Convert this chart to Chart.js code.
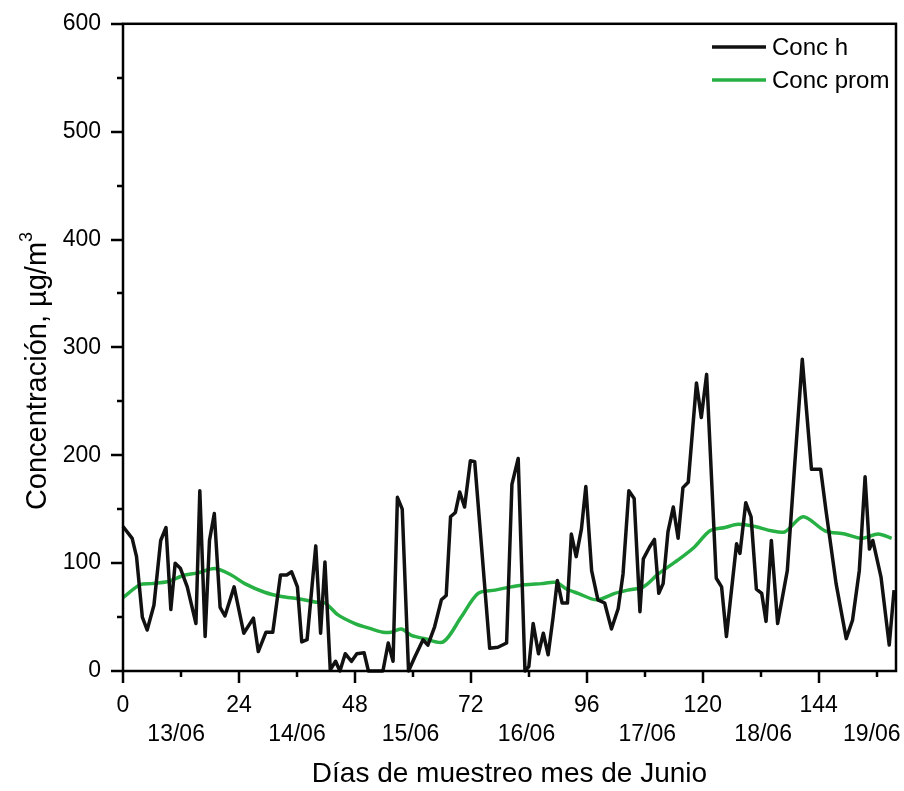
<!DOCTYPE html>
<html lang="es">
<head>
<meta charset="utf-8">
<title>Concentración horaria - Junio</title>
<script src="https://cdn.jsdelivr.net/npm/chart.js@4.4.1/dist/chart.umd.min.js"></script>
<style>
    html, body { margin: 0; padding: 0; background: #ffffff; }
    #grafico { display: block; }
</style>
</head>
<body>
<canvas id="grafico" width="904" height="791"></canvas>
<script>
"use strict";

/********************************************************************
 * Datos (horas desde el inicio del muestreo)
 ********************************************************************/
const horasH = [
    0, 1.9, 2.8, 4, 5, 6.4, 7.8, 8.9, 9.9, 10.8,
    11.9, 13.3, 15.1, 15.9, 17, 17.9, 18.9, 20.1, 21.1, 23,
    25, 27, 28, 29.6, 31, 32.6, 33.9, 34.9, 36.1, 37,
    38.1, 39.9, 40.9, 41.8, 42.9, 44, 44.9, 46, 47.3, 48.4,
    49.9, 50.8, 53.8, 54.9, 55.9, 56.8, 57.8, 59.1, 60.4, 62.1,
    63.1, 64.5, 65.9, 66.9, 67.8, 68.8, 69.7, 70.7, 71.9, 72.8,
    75.9, 77.6, 79.4, 80.5, 81.8, 83.2, 84, 84.9, 86, 87,
    88, 89, 89.9, 90.9, 92, 92.8, 93.8, 94.9, 95.8, 97,
    98.3, 99.7, 101.1, 102.5, 103.5, 104.7, 105.8, 107, 107.7, 109,
    110, 110.9, 111.8, 112.8, 113.9, 114.9, 115.9, 117, 118.7, 119.7,
    120.8, 122.8, 123.9, 124.9, 127, 127.7, 128.9, 130, 131.1, 132.2,
    133.1, 134.2, 135.5, 137.5, 139, 140.6, 142.5, 144.4, 145.5, 147.6,
    149.7, 151, 152.4, 153.6, 154.5, 155.2, 156.9, 158.6, 159.6
];

const concH = [
    134, 123, 106, 50, 38, 61, 121, 133, 57, 100,
    95, 78, 44, 167, 32, 121, 146, 59, 51, 78,
    35, 49, 18, 36, 36, 89, 89, 92, 78, 27,
    29, 116, 35, 101, 1, 9, 0, 16, 9, 16,
    17, 0, 0, 26, 9, 161, 150, 0, 13, 29,
    24, 41, 66, 70, 143, 147, 166, 152, 195, 194,
    21, 22, 26, 173, 197, 0, 4, 44, 16, 35,
    15, 49, 84, 63, 63, 127, 106, 132, 171, 93,
    66, 63, 39, 58, 90, 167, 160, 55, 104, 115,
    122, 72, 81, 129, 152, 123, 170, 175, 267, 235,
    275, 86, 78, 32, 118, 109, 156, 143, 76, 72,
    46, 121, 44, 93, 189, 289, 187, 187, 149, 81,
    30, 47, 93, 180, 113, 121, 87, 24, 75
];

const horasProm = [
    0, 3.5, 5.9, 9.3, 12.8, 15.5, 19, 22.4, 25.2, 29.3,
    32.8, 36.2, 39.7, 41.8, 44.5, 48, 51.4, 53.8, 55.5, 57.6,
    59.7, 62.5, 66.3, 70, 73.5, 77, 80.4, 83.2, 86.6, 89.7,
    91.8, 94.2, 98, 101.8, 104.5, 107.7, 110.8, 114.9, 118.3, 121.5,
    124.6, 127.3, 130.8, 134.2, 137, 140.8, 145.3, 149.4, 152.9, 156.3,
    159.1
];

const concProm = [
    68, 80, 81, 83, 89, 91, 95, 89, 81, 73,
    69, 67, 64, 63, 52, 44, 39, 36, 36, 39,
    33, 30, 27, 50, 72, 75, 78, 80, 81, 82,
    76, 72, 66, 72, 75, 78, 90, 103, 115, 130,
    133, 136, 134, 130, 129, 143, 130, 127, 123, 127,
    123
];

const ticksX = [0, 24, 48, 72, 96, 120, 144];
const etiquetasDias = ["13/06", "14/06", "15/06", "16/06", "17/06", "18/06", "19/06"];
const horasDias = [11, 36, 59.5, 83.5, 108.5, 132.5, 155];

const FUENTE = "'Liberation Sans', Arial, Helvetica, sans-serif";
const VERDE = "#27b043";

/********************************************************************
 * Marco, marcas de ejes, fechas, título Y y leyenda
 ********************************************************************/
const extrasPlugin = {

    id: "extras",

    afterDraw(chart) {

        const ctx = chart.ctx;
        const area = chart.chartArea;
        const sx = chart.scales.x;
        const sy = chart.scales.y;

        ctx.save();

        // marco
        ctx.strokeStyle = "#000";
        ctx.lineWidth = 2.5;
        ctx.strokeRect(area.left, area.top, area.right - area.left, area.bottom - area.top);

        // marcas eje Y (mayores cada 100, menores cada 50)
        ctx.beginPath();
        for (let v = 0; v <= 600; v += 50) {
            const y = Math.round(sy.getPixelForValue(v));
            const largo = v % 100 === 0 ? 12 : 6;
            ctx.moveTo(area.left, y);
            ctx.lineTo(area.left - largo, y);
        }

        // marcas eje X (mayores cada 24 h, menores cada 12 h)
        for (let h = 0; h <= 156; h += 12) {
            const x = Math.round(sx.getPixelForValue(h));
            const largo = h % 24 === 0 ? 12 : 6;
            ctx.moveTo(x, area.bottom);
            ctx.lineTo(x, area.bottom + largo);
        }
        ctx.stroke();

        // fechas bajo el eje X
        ctx.fillStyle = "#000";
        ctx.font = "23px " + FUENTE;
        ctx.textAlign = "center";
        ctx.textBaseline = "middle";
        etiquetasDias.forEach((d, i) => {
            ctx.fillText(d, sx.getPixelForValue(horasDias[i]), 735);
        });

        // título eje Y con superíndice
        ctx.translate(38, 371);
        ctx.rotate(-Math.PI / 2);
        const base = "Concentración, µg/m";
        ctx.font = "29px " + FUENTE;
        const anchoBase = ctx.measureText(base).width;
        ctx.font = "18px " + FUENTE;
        const anchoSup = ctx.measureText("3").width;
        const inicio = -(anchoBase + anchoSup) / 2;
        ctx.textAlign = "left";
        ctx.textBaseline = "middle";
        ctx.font = "29px " + FUENTE;
        ctx.fillText(base, inicio, 0);
        ctx.font = "18px " + FUENTE;
        ctx.fillText("3", inicio + anchoBase, -11);
        ctx.setTransform(1, 0, 0, 1, 0, 0);

        // leyenda
        ctx.font = "24px " + FUENTE;
        ctx.textAlign = "left";
        ctx.textBaseline = "middle";
        chart.data.datasets.forEach((ds, i) => {
            const y = 47 + i * 33;
            ctx.strokeStyle = ds.borderColor;
            ctx.lineWidth = 3.5;
            ctx.beginPath();
            ctx.moveTo(712, y);
            ctx.lineTo(766, y);
            ctx.stroke();
            ctx.fillStyle = "#000";
            ctx.fillText(ds.label, 772, y + 1);
        });

        ctx.restore();

    }

};

/********************************************************************
 * Gráfico
 ********************************************************************/
function crearGrafico() {

    const canvas = document.getElementById("grafico");

    return new Chart(canvas, {

        type: "line",

        data: {

            datasets: [
                {
                    label: "Conc h",
                    data: horasH.map((h, i) => ({ x: h, y: concH[i] })),
                    borderColor: "#111111",
                    borderWidth: 3.5,
                    pointRadius: 0,
                    tension: 0,
                    borderJoinStyle: "round",
                    clip: false
                },
                {
                    label: "Conc prom",
                    data: horasProm.map((h, i) => ({ x: h, y: concProm[i] })),
                    borderColor: VERDE,
                    borderWidth: 3.5,
                    pointRadius: 0,
                    tension: 0.3,
                    clip: false
                }
            ]

        },

        options: {

            responsive: false,
            animation: false,
            devicePixelRatio: 1,

            layout: {
                padding: { top: 22, right: 8, bottom: 0, left: 0 }
            },

            plugins: {
                legend: { display: false },
                tooltip: { enabled: false }
            },

            scales: {

                x: {
                    type: "linear",
                    min: 0,
                    max: 160,
                    afterBuildTicks: (scale) => {
                        scale.ticks = ticksX.map(v => ({ value: v }));
                    },
                    afterFit: (scale) => { scale.height = 120; },
                    ticks: {
                        autoSkip: false,
                        maxRotation: 0,
                        padding: 9,
                        color: "#000",
                        font: { family: FUENTE, size: 23 }
                    },
                    grid: {
                        drawOnChartArea: false,
                        drawTicks: true,
                        tickLength: 12,
                        tickColor: "rgba(0,0,0,0)"
                    },
                    border: { display: false },
                    title: {
                        display: true,
                        text: "Días de muestreo mes de Junio",
                        color: "#000",
                        font: { family: FUENTE, size: 28 },
                        padding: { top: 0, bottom: 0 }
                    }
                },

                y: {
                    min: 0,
                    max: 600,
                    afterFit: (scale) => { scale.width = 123; },
                    ticks: {
                        stepSize: 100,
                        padding: 10,
                        color: "#000",
                        font: { family: FUENTE, size: 23 }
                    },
                    grid: {
                        drawOnChartArea: false,
                        drawTicks: true,
                        tickLength: 12,
                        tickColor: "rgba(0,0,0,0)"
                    },
                    border: { display: false }
                }

            }

        },

        plugins: [extrasPlugin]

    });

}

crearGrafico();
</script>
</body>
</html>
